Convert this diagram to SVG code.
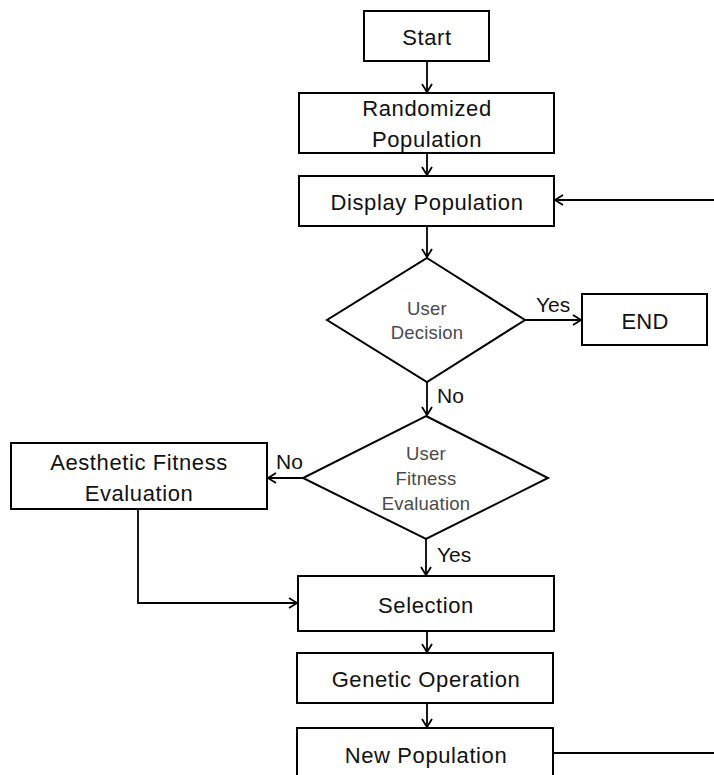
<svg xmlns="http://www.w3.org/2000/svg" width="714" height="775" viewBox="0 0 714 775">
  <defs>
    <marker id="arr" markerUnits="userSpaceOnUse" markerWidth="12" markerHeight="14" refX="9" refY="6" orient="auto">
      <path d="M1,1 L9,6 L1,11" fill="none" stroke="#000" stroke-width="1.8"/>
    </marker>
    <style>
      .box { fill: #fff; stroke: #000; stroke-width: 2; }
      .dia { fill: #fff; stroke: #000; stroke-width: 2; stroke-linejoin: miter; }
      .t { font-family: "Liberation Sans", Arial, sans-serif; font-size: 22px; fill: #111; text-anchor: middle; letter-spacing: 0.6px; }
      .d { font-family: "Liberation Sans", Arial, sans-serif; font-size: 18.5px; fill: #4a4a4a; text-anchor: middle; letter-spacing: 0.2px; }
      .lbl { font-family: "Liberation Sans", Arial, sans-serif; font-size: 21px; fill: #111; }
      .c { fill: none; stroke: #000; stroke-width: 1.8; }
    </style>
  </defs>
  <rect width="714" height="775" fill="#fff"/>

  <g id="connectors">
    <line class="c" x1="427" y1="61" x2="427" y2="92" marker-end="url(#arr)"/>
    <line class="c" x1="427" y1="153" x2="427" y2="175" marker-end="url(#arr)"/>
    <line class="c" x1="427" y1="226" x2="427" y2="257" marker-end="url(#arr)"/>
    <line class="c" x1="525" y1="320" x2="581" y2="320" marker-end="url(#arr)"/>
    <line class="c" x1="427" y1="382" x2="427" y2="415" marker-end="url(#arr)"/>
    <line class="c" x1="303" y1="478" x2="268" y2="478" marker-end="url(#arr)"/>
    <line class="c" x1="426" y1="539" x2="426" y2="575" marker-end="url(#arr)"/>
    <polyline class="c" points="138,509 138,603 297,603" marker-end="url(#arr)"/>
    <line class="c" x1="427" y1="631" x2="427" y2="652" marker-end="url(#arr)"/>
    <line class="c" x1="427" y1="703" x2="427" y2="727" marker-end="url(#arr)"/>
    <polyline class="c" points="553,753 725,753 725,200 555,200" marker-end="url(#arr)"/>
  </g>

  <g id="labels">
    <text class="lbl" x="536" y="312">Yes</text>
    <text class="lbl" x="437" y="403">No</text>
    <text class="lbl" x="276" y="469">No</text>
    <text class="lbl" x="437" y="562">Yes</text>
  </g>

  <g id="start">
    <rect class="box" x="364" y="11" width="125" height="50"/>
    <text class="t" x="427" y="45">Start</text>
  </g>
  <g id="randomized">
    <rect class="box" x="299" y="93" width="255" height="60"/>
    <text class="t" x="427" y="116">Randomized</text>
    <text class="t" x="427" y="147">Population</text>
  </g>
  <g id="display">
    <rect class="box" x="299" y="176" width="255" height="50"/>
    <text class="t" x="427" y="210">Display Population</text>
  </g>
  <g id="decision">
    <polygon class="dia" points="427,258 525,320 427,382 327,320"/>
    <text class="d" x="427" y="315">User</text>
    <text class="d" x="427" y="339">Decision</text>
  </g>
  <g id="end">
    <rect class="box" x="582" y="294" width="125" height="51"/>
    <text class="t" x="645" y="329" style="letter-spacing:0.2px">END</text>
  </g>
  <g id="fitness">
    <polygon class="dia" points="426,416 548,478 426,539 303,478"/>
    <text class="d" x="426" y="460">User</text>
    <text class="d" x="426" y="485">Fitness</text>
    <text class="d" x="426" y="510">Evaluation</text>
  </g>
  <g id="aesthetic">
    <rect class="box" x="11" y="443" width="256" height="66"/>
    <text class="t" x="139" y="470">Aesthetic Fitness</text>
    <text class="t" x="139" y="501">Evaluation</text>
  </g>
  <g id="selection">
    <rect class="box" x="298" y="576" width="256" height="55"/>
    <text class="t" x="426" y="613">Selection</text>
  </g>
  <g id="genetic">
    <rect class="box" x="297" y="653" width="256" height="50"/>
    <text class="t" x="426" y="687">Genetic Operation</text>
  </g>
  <g id="newpop">
    <rect class="box" x="297" y="728" width="256" height="60"/>
    <text class="t" x="426" y="763">New Population</text>
  </g>
</svg>
